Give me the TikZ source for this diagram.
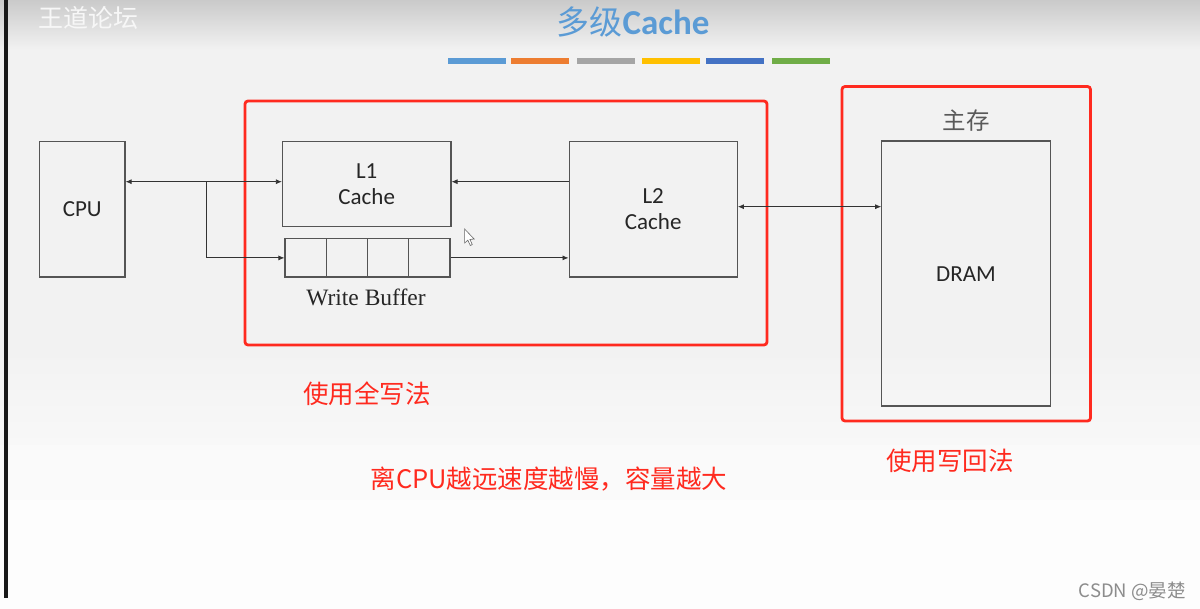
\documentclass[tikz,border=0pt]{standalone}
\usepackage{fontspec}
\setmainfont{Carlito}
\newfontfamily\serifw{Liberation Serif}
\newfontfamily\cjk{Noto Sans CJK SC}
\usetikzlibrary{arrows.meta,positioning}
\definecolor{bg}{HTML}{F2F2F2}
\definecolor{bgm}{HTML}{F8F8F8}
\definecolor{bgn}{HTML}{FAFAFA}
\definecolor{bgl}{HTML}{FDFDFD}
\definecolor{hdr}{HTML}{CACACA}
\definecolor{ttl}{HTML}{5B9BD5}
\definecolor{redb}{HTML}{FF2A1F}
\definecolor{boxc}{HTML}{555555}
\definecolor{arrc}{HTML}{333333}
\definecolor{c1}{HTML}{5B9BD5}
\definecolor{c2}{HTML}{ED7D31}
\definecolor{c3}{HTML}{A5A5A5}
\definecolor{c4}{HTML}{FFC000}
\definecolor{c5}{HTML}{4472C4}
\definecolor{c6}{HTML}{70AD47}
\tikzset{
  blk/.style={draw=boxc, line width=1.1pt, fill=none, inner sep=0pt, align=center,
    font=\fontsize{23}{27}\selectfont, text=black!85},
  cell/.style={draw=boxc, line width=1.1pt, minimum width=41.25pt, minimum height=38.3pt, inner sep=0pt},
  arr/.style={draw=arrc, line width=0.8pt, -{Latex[length=6pt,width=5pt]}},
  darr/.style={draw=arrc, line width=0.8pt, {Latex[length=6pt,width=5pt]}-{Latex[length=6pt,width=5pt]}},
  redbox/.style={draw=redb, line width=2.8pt, rounded corners=3pt},
  redtxt/.style={text=redb, font=\cjk\fontsize{25.5}{29}\selectfont, inner sep=0pt},
  bar/.style={draw=none, inner sep=0pt, minimum height=6pt, minimum width=58pt}
}
\begin{document}
\begin{tikzpicture}[x=1pt,y=-1pt]
\useasboundingbox (0,0) rectangle (1200,609);
% background
\fill[bg] (0,0) rectangle (1200,350);
\shade[top color=bg, bottom color=bgm] (0,350) rectangle (1200,445);
\fill[bgn] (0,445) rectangle (1200,500);
\fill[bgl] (0,500) rectangle (1200,609);
\shade[top color=hdr, bottom color=bg] (0,0) rectangle (1200,50);
\fill[black!90] (4,0) rectangle (7.5,598);
% header
\node[text=white!97!black, font=\cjk\fontsize{25}{28}\selectfont, anchor=west, inner sep=0pt] (wm) at (38,18) {王道论坛};
\node[inner sep=0pt, text=ttl] (title) at (633,22) {{\cjk\fontsize{33}{37}\selectfont 多级}{\fontsize{35}{38}\selectfont\bfseries Cache}};
\node[bar, fill=c1] (b1) at (476.7,61) {};
\node[bar, fill=c2] (b2) at (540.3,61) {};
\node[bar, fill=c3] (b3) at (605.8,61) {};
\node[bar, fill=c4] (b4) at (670.8,61) {};
\node[bar, fill=c5] (b5) at (734.8,61) {};
\node[bar, fill=c6] (b6) at (801.3,61) {};
% red frames
\draw[redbox] (245,101) rectangle (767,345);
\draw[redbox] (842,86.5) rectangle (1090.5,421);
% blocks
\node[blk, minimum width=85.4pt, minimum height=135.3pt] (cpu) at (82.3,209.4) {CPU};
\node[blk, minimum width=168.5pt, minimum height=85pt] (l1) at (366.7,184.2) {L1\\[-1pt]Cache};
\node[cell] (wb1) at (305.6,257.9) {};
\node[cell] (wb2) at (346.9,257.9) {};
\node[cell] (wb3) at (388.1,257.9) {};
\node[cell] (wb4) at (429.4,257.9) {};
\node[font=\serifw\fontsize{23.5}{26}\selectfont, text=black!85, inner sep=0pt] (wbl) at (366,297) {Write Buffer};
\node[blk, minimum width=168.3pt, minimum height=135.3pt] (l2) at (653.2,209.4) {L2\\[-1pt]Cache};
\node[font=\cjk\fontsize{23.5}{26}\selectfont, text=black!65, inner sep=0pt] (mm) at (966,121) {主存};
\node[blk, minimum width=168.5pt, minimum height=265pt] (dram) at (966,273.5) {};
\node[font=\fontsize{23}{27}\selectfont, text=black!85, inner sep=0pt] (dramt) at (966,274) {DRAM};
% connectors
\coordinate (j) at (206.4,181.7);
\draw[darr] (cpu.east |- j) -- (l1.west |- j);
\draw[arr] (j) |- (wb1.west);
\draw[arr] (l2.west |- j) -- (l1.east |- j);
\draw[arr] (wb4.east) -- (l2.west |- wb4.east);
\coordinate (k) at (737,206.7);
\draw[darr] (l2.east |- k) -- (dram.west |- k);
% mouse pointer
\draw[black!60, fill=white, line width=0.6pt] (464.6,229) -- (464.6,243) -- (467.8,240.2) -- (470.3,245.5) -- (472.3,244.6) -- (469.9,239.4) -- (474.2,239.1) -- cycle;
% red notes
\node[redtxt] (n1) at (367,394) {使用全写法};
\node[redtxt] (n2) at (549,479) {离CPU越远速度越慢，容量越大};
\node[redtxt] (n3) at (950,461) {使用写回法};
% watermark
\node[font=\cjk\fontsize{18.5}{21}\selectfont, text=black!45, anchor=east, inner sep=0pt] (csdn) at (1186,591) {CSDN @晏楚};
\end{tikzpicture}
\end{document}
